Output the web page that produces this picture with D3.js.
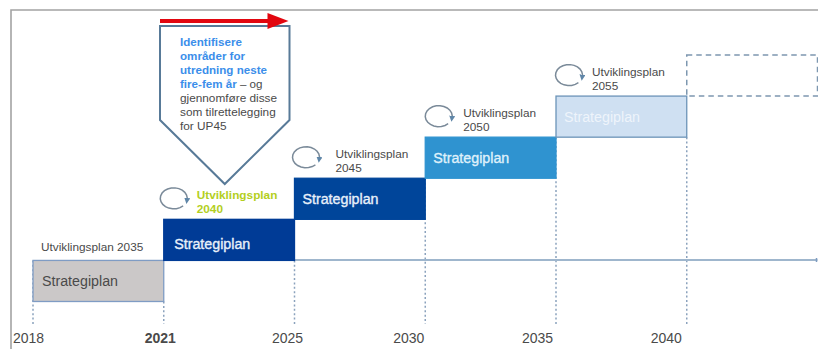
<!DOCTYPE html>
<html>
<head>
<meta charset="utf-8">
<script src="https://cdn.jsdelivr.net/npm/d3@7/dist/d3.min.js"></script>
<style>
  html, body { margin: 0; padding: 0; background: #fff; }
  svg { display: block; font-family: "Liberation Sans", Arial, sans-serif; }
</style>
</head>
<body>
<svg id="chart" width="818" height="349"></svg>
<script>
// Planning periods along the timeline
const years = ["2018", "2021", "2025", "2030", "2035", "2040", "2045"];
const tickYears = ["2018", "2021", "2025", "2030", "2035", "2040"];
const stepStart = ["2018", "2021", "2025", "2030", "2035"];
const stepEnd = ["2021", "2025", "2030", "2035", "2040"];
const stepLevel = [0, 1, 2, 3, 4];
const planNames = ["Utviklingsplan 2035", "Utviklingsplan 2040", "Utviklingsplan 2045", "Utviklingsplan 2050", "Utviklingsplan 2055"];
const stepLabel = "Strategiplan";
const calloutLines = ["Identifisere", "områder for", "utredning neste", "fire-fem år", "gjennomføre disse", "som tilrettelegging", "for UP45"];

// Styling per step
const stepFill = ["#cbc8c8", "#003b96", "#00459a", "#2f93d0", "#cfe0f2"];
const stepText = ["#4a4a4a", "#e8f0fa", "#e8f0fa", "#dff0fb", "#eef4fb"];
const stepStroke = ["#7f9cc4", "#003b96", "#00459a", "#2f93d0", "#6c94b8"];
const labelInsetX = [9, 10.5, 8, 8, 8];
const labelRaise = [15.5, 11, 15.5, 15.5, 15.5];
const planInset = [8, 33, 41, 38, 36];
const cycleInset = [0, 10, 11.5, 13.5, 13];
const tickShift = { "2018": -5, "2021": -4, "2025": -7.5, "2030": -17, "2035": -19, "2040": -21 };

const svg = d3.select("#chart");
const x = d3.scalePoint().domain(years).range([33, 817.5]);
const y = d3.scaleLinear().domain([0, 6]).range([301.5, 55]);
const axisY = 260;
const dottedEnd = 324;

svg.append("defs").append("marker")
  .attr("id", "cycle-head").attr("viewBox", "0 0 8 8")
  .attr("refX", 4).attr("refY", 4)
  .attr("markerWidth", 6).attr("markerHeight", 6)
  .attr("markerUnits", "userSpaceOnUse").attr("orient", "auto")
  .append("path").attr("d", "M0,0L8,4L0,8Z").attr("fill", "#5f86a8");

// Outer frame, open at the bottom and right
svg.append("path")
  .attr("d", "M11,349V10H818")
  .attr("fill", "none").attr("stroke", "#a3a3a3").attr("stroke-width", 1.6);

// Dotted drop lines from each step down to the year labels
const dropTop = { "2018": y(1), "2021": y(0), "2025": y(1), "2030": y(3), "2035": y(4), "2040": y(4) };
svg.append("g").selectAll("line").data(tickYears).join("line")
  .attr("x1", d => x(d)).attr("x2", d => x(d))
  .attr("y1", d => dropTop[d]).attr("y2", dottedEnd)
  .attr("stroke", "#8ba2bd").attr("stroke-width", 1.5)
  .attr("stroke-dasharray", "2 2.4");

// Timeline
svg.append("line")
  .attr("x1", x("2021")).attr("x2", x("2045"))
  .attr("y1", axisY).attr("y2", axisY)
  .attr("stroke", "#9fb6cd").attr("stroke-width", 2);
svg.append("line")
  .attr("x1", x("2045") - 1).attr("x2", x("2045") - 1)
  .attr("y1", axisY - 2).attr("y2", axisY + 2)
  .attr("stroke", "#7f9cc0").attr("stroke-width", 1.5);

// Next planning period, not yet started
svg.append("rect")
  .attr("x", x("2040")).attr("y", y(6))
  .attr("width", x("2045") - x("2040")).attr("height", y(5) - y(6))
  .attr("fill", "none").attr("stroke", "#7d97b0").attr("stroke-width", 1.5)
  .attr("stroke-dasharray", "5.5 4");

// Steps
const steps = svg.append("g").selectAll("g").data(stepStart).join("g");
steps.append("rect")
  .attr("x", d => x(d))
  .attr("y", (d, i) => y(stepLevel[i] + 1))
  .attr("width", (d, i) => x(stepEnd[i]) - x(d))
  .attr("height", (d, i) => y(stepLevel[i]) - y(stepLevel[i] + 1))
  .attr("fill", (d, i) => stepFill[i])
  .attr("stroke", (d, i) => stepStroke[i]).attr("stroke-width", 1.3);
steps.append("text")
  .attr("x", (d, i) => x(d) + labelInsetX[i])
  .attr("y", (d, i) => y(stepLevel[i]) - labelRaise[i])
  .attr("font-size", 14)
  .attr("textLength", 76).attr("lengthAdjust", "spacingAndGlyphs")
  .attr("fill", (d, i) => stepText[i])
  .attr("stroke", (d, i) => stepText[i])
  .attr("stroke-width", (d, i) => i === 0 || i === 4 ? 0 : 0.35)
  .text(stepLabel);

// Plan name above each step, wrapped except for the first
const planLabels = svg.append("g").selectAll("text").data(planNames).join("text")
  .attr("font-size", 11.8)
  .attr("fill", (d, i) => i === 1 ? "#b3cf1e" : "#4a4a4a")
  .attr("font-weight", (d, i) => i === 1 ? 700 : 400);
planLabels.each(function (d, i) {
  const t = d3.select(this);
  const top = y(stepLevel[i] + 1);
  const left = x(stepStart[i]) + planInset[i];
  if (i === 0) {
    t.attr("x", left).attr("y", top - 9).text(d);
  } else {
    const parts = d.split(" ");
    t.append("tspan").attr("x", left).attr("y", top - 20).text(parts[0]);
    t.append("tspan").attr("x", left).attr("y", top - 6).text(parts[1]);
  }
});

// Cycle symbols for the steps that are still revised
const arcPoints = d3.range(0, 1.001, 0.05).map(t => {
  const a = -0.25 + t * (Math.PI * 2 - 0.55);
  return [13.5 * Math.cos(-a), 10.5 * Math.sin(-a)];
});
const cycleLine = d3.line()(arcPoints.slice().reverse());
svg.append("g").selectAll("path").data(stepStart.slice(1)).join("path")
  .attr("transform", (d, i) => `translate(${x(d) + cycleInset[i + 1]},${y(stepLevel[i + 1] + 1) - 21})`)
  .attr("d", cycleLine)
  .attr("fill", "none").attr("stroke", "#7a8a99").attr("stroke-width", 1.5)
  .attr("marker-end", "url(#cycle-head)");

// Callout over the 2021-2025 period
const calloutLeft = x("2021") - 3.75, calloutRight = x("2025") - 5;
const calloutTip = (calloutLeft + calloutRight) / 2;
svg.append("path")
  .attr("d", d3.line()([[calloutLeft, 26], [calloutRight, 26], [calloutRight, 120], [calloutTip, 184], [calloutLeft, 120]]) + "Z")
  .attr("fill", "#fff").attr("stroke", "#587a98").attr("stroke-width", 2);

const calloutText = svg.append("g").selectAll("text").data(calloutLines).join("text")
  .attr("x", 180)
  .attr("y", (d, i) => 45.5 + i * 14.1)
  .attr("font-size", (d, i) => i < 4 ? 11.6 : 11.8)
  .attr("font-weight", (d, i) => i < 4 ? 700 : 400)
  .attr("fill", (d, i) => i < 4 ? "#3b8eea" : "#4a4a4a")
  .text(d => d);
calloutText.filter((d, i) => i === 3).append("tspan")
  .attr("font-weight", 400).attr("fill", "#4a4a4a").text(" – og");

// Red arrow along the top of the callout
const arrowY = 21;
svg.append("line")
  .attr("x1", calloutLeft).attr("x2", calloutRight - 20)
  .attr("y1", arrowY).attr("y2", arrowY)
  .attr("stroke", "#e2060f").attr("stroke-width", 4);
svg.append("path")
  .attr("d", d3.line()([[calloutRight - 22, arrowY - 8], [calloutRight - 1, arrowY], [calloutRight - 22, arrowY + 8]]) + "Z")
  .attr("fill", "#e2060f");

// Year labels
const axis = d3.axisBottom(x).tickValues(tickYears).tickSize(0).tickPadding(0);
const axisG = svg.append("g").attr("transform", "translate(0,333)").call(axis);
axisG.select(".domain").remove();
axisG.selectAll("text")
  .attr("dx", d => tickShift[d])
  .attr("font-family", "'Liberation Sans', Arial, sans-serif")
  .attr("font-size", 14)
  .attr("font-weight", d => d === "2021" ? 700 : 400)
  .attr("fill", "#4a4a4a");
</script>
</body>
</html>
